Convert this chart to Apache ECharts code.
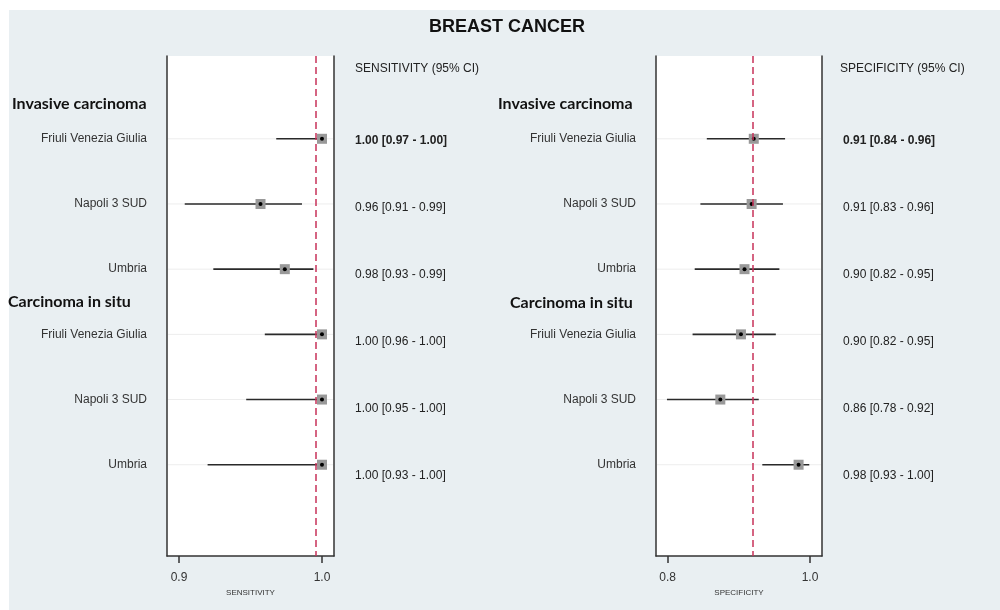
<!DOCTYPE html>
<html><head><meta charset="utf-8">
<script src="https://cdn.jsdelivr.net/npm/echarts@6/dist/echarts.min.js"></script>
<style>html,body{margin:0;padding:0;background:#fff}#c{width:1000px;height:610px}</style>
</head><body><div id="c"></div><script>
const chartTitle = 'BREAST CANCER';
const groups = ['Invasive carcinoma', 'Carcinoma in situ'];
const centres = ['Friuli Venezia Giulia', 'Napoli 3 SUD', 'Umbria', 'Friuli Venezia Giulia', 'Napoli 3 SUD', 'Umbria'];
const rows = [1, 2, 3, 4, 5, 6];

const sensEst  = [1.000, 0.957, 0.974, 1.000, 1.000, 1.000];
const sensLow  = [0.968, 0.904, 0.924, 0.960, 0.947, 0.920];
const sensHigh = [1.000, 0.986, 0.994, 1.000, 1.000, 1.000];
const sensText = ['1.00 [0.97 - 1.00]', '0.96 [0.91 - 0.99]', '0.98 [0.93 - 0.99]', '1.00 [0.96 - 1.00]', '1.00 [0.95 - 1.00]', '1.00 [0.93 - 1.00]'];
const sensPooled = 0.9956;

const specEst  = [0.921, 0.918, 0.908, 0.903, 0.874, 0.984];
const specLow  = [0.855, 0.846, 0.838, 0.835, 0.799, 0.933];
const specHigh = [0.965, 0.962, 0.957, 0.952, 0.928, 0.999];
const specText = ['0.91 [0.84 - 0.96]', '0.91 [0.83 - 0.96]', '0.90 [0.82 - 0.95]', '0.90 [0.82 - 0.95]', '0.86 [0.78 - 0.92]', '0.98 [0.93 - 1.00]'];
const specPooled = 0.919;

const sensTicks = [0.9, 1.0];
const specTicks = [0.8, 1.0];
const sensHeader = 'SENSITIVITY (95% CI)';
const specHeader = 'SPECIFICITY (95% CI)';
const sensAxisName = 'SENSITIVITY';
const specAxisName = 'SPECIFICITY';

const FONT = '"Liberation Sans", Arial, sans-serif';
const HFONT = 'bold 16px Lato, sans-serif';
const sensRange = [0.8916, 1.0084];
const specRange = [0.7836, 1.0169];
const yRange = [-0.27, 7.4];

function makeRender(xr, texts) {
  return function (params, api) {
    const i = params.dataIndex;
    const low = api.value(0), high = api.value(1), est = api.value(2), row = api.value(3);
    const pL = api.coord([xr[0], row]), pR = api.coord([xr[1], row]);
    const a = api.coord([low, row]), b = api.coord([high, row]), c = api.coord([est, row]);
    const y = c[1];
    return {
      type: 'group',
      children: [
        { type: 'line', shape: { x1: pL[0] + 1, y1: y, x2: pR[0] - 1, y2: y }, style: { stroke: '#ededed', lineWidth: 1 } },
        { type: 'line', shape: { x1: a[0], y1: y, x2: b[0], y2: y }, style: { stroke: '#2a2a2a', lineWidth: 1.6 } },
        { type: 'rect', shape: { x: c[0] - 5, y: y - 5, width: 10, height: 10 }, style: { fill: '#999' } },
        { type: 'circle', shape: { cx: c[0], cy: y, r: 2 }, style: { fill: '#000' } },
        { type: 'text', x: pL[0] - 20, y: y, style: { text: centres[i], align: 'right', verticalAlign: 'middle', font: '12px ' + FONT, fill: '#333' } },
        { type: 'text', x: pR[0] + 21, y: y + 2 + 1.7 * i, style: { text: texts[i], align: 'left', verticalAlign: 'middle', font: (i === 0 ? 'bold ' : '') + '12px ' + FONT, fill: '#222' } }
      ]
    };
  };
}

function xAxisCfg(idx, range, ticks, name) {
  return {
    gridIndex: idx, type: 'value', min: range[0], max: range[1], position: 'bottom',
    axisLine: { show: true, onZero: false, lineStyle: { color: '#333', width: 1.5 } },
    axisTick: { show: true, customValues: ticks, length: 7, lineStyle: { color: '#333', width: 1.5 } },
    axisLabel: { customValues: ticks, formatter: v => v.toFixed(1), fontSize: 12, color: '#333', margin: 16, fontFamily: FONT },
    splitLine: { show: false },
    name: name, nameLocation: 'middle', nameGap: 25,
    nameTextStyle: { fontSize: 8, color: '#333', fontFamily: FONT }
  };
}
function yAxisCfg(idx, pos) {
  return {
    gridIndex: idx, type: 'value', position: pos, min: yRange[0], max: yRange[1], inverse: true,
    axisLine: { show: true, onZero: false, lineStyle: { color: '#333', width: 1.5 } },
    axisTick: { show: false }, axisLabel: { show: false }, splitLine: { show: false }
  };
}
function seriesCfg(idx, low, high, est, xr, texts, pooled) {
  return {
    type: 'custom', xAxisIndex: idx, yAxisIndex: idx * 2, clip: false, z: 2,
    data: rows.map((r, i) => [low[i], high[i], est[i], r]),
    encode: { x: [0, 1, 2], y: 3 },
    renderItem: makeRender(xr, texts),
    markLine: {
      silent: true, symbol: 'none', precision: 6, label: { show: false }, z: 5,
      lineStyle: { color: '#c8325a', type: [7, 4], width: 1.5 },
      data: [{ xAxis: pooled }]
    }
  };
}

const chart = echarts.init(document.getElementById('c'));
chart.setOption({
  animation: false,
  backgroundColor: '#fff',
  grid: [
    { left: 167, top: 56, width: 167, height: 500, show: true, borderWidth: 0, backgroundColor: '#fff' },
    { left: 656, top: 56, width: 166, height: 500, show: true, borderWidth: 0, backgroundColor: '#fff' }
  ],
  xAxis: [xAxisCfg(0, sensRange, sensTicks, sensAxisName), xAxisCfg(1, specRange, specTicks, specAxisName)],
  yAxis: [yAxisCfg(0, 'left'), yAxisCfg(0, 'right'), yAxisCfg(1, 'left'), yAxisCfg(1, 'right')],
  series: [
    seriesCfg(0, sensLow, sensHigh, sensEst, sensRange, sensText, sensPooled),
    seriesCfg(1, specLow, specHigh, specEst, specRange, specText, specPooled)
  ],
  graphic: [
    { type: 'rect', z: -100, silent: true, shape: { x: 9, y: 10, width: 991, height: 600 }, style: { fill: '#e9eff2' } },
    { type: 'text', x: 507, y: 27, style: { text: chartTitle, align: 'center', verticalAlign: 'middle', font: 'bold 18px ' + FONT, fill: '#111' } },
    { type: 'text', x: 355, y: 69, style: { text: sensHeader, align: 'left', verticalAlign: 'middle', font: '12px ' + FONT, fill: '#222' } },
    { type: 'text', x: 840, y: 69, style: { text: specHeader, align: 'left', verticalAlign: 'middle', font: '12px ' + FONT, fill: '#222' } },
    { type: 'text', x: 12, y: 104, style: { text: groups[0], align: 'left', verticalAlign: 'middle', font: HFONT, fill: '#111' } },
    { type: 'text', x: 8, y: 302, style: { text: groups[1], align: 'left', verticalAlign: 'middle', font: HFONT, fill: '#111' } },
    { type: 'text', x: 498, y: 104, style: { text: groups[0], align: 'left', verticalAlign: 'middle', font: HFONT, fill: '#111' } },
    { type: 'text', x: 510, y: 303, style: { text: groups[1], align: 'left', verticalAlign: 'middle', font: HFONT, fill: '#111' } }
  ]
});
</script></body></html>
